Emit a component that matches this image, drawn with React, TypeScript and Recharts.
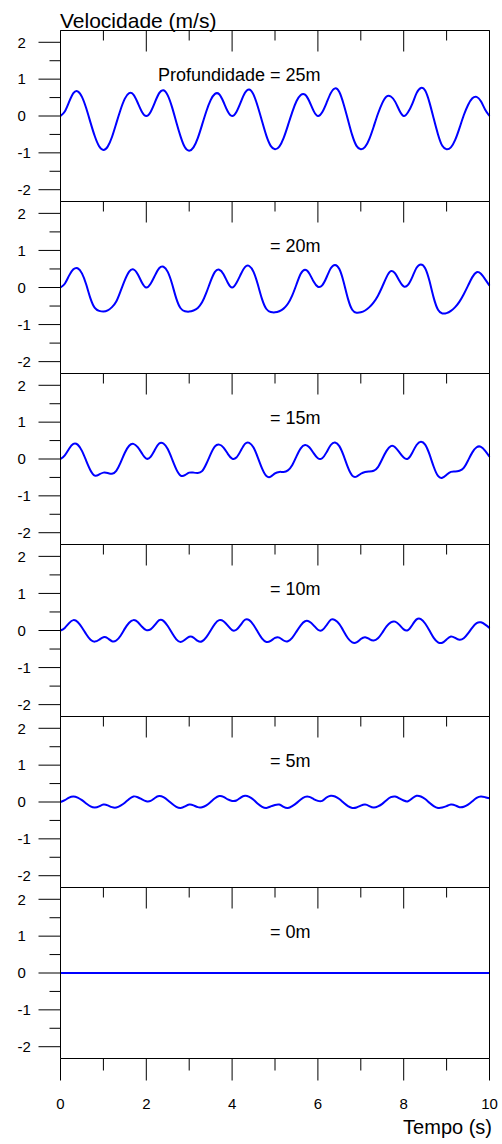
import { Line, LineChart, XAxis, YAxis } from "recharts";

// tempo (s), amostras a cada 0.1 s
const tempo = [
  0, 0.1, 0.2, 0.3, 0.4, 0.5, 0.6, 0.7, 0.8, 0.9,
  1, 1.1, 1.2, 1.3, 1.4, 1.5, 1.6, 1.7, 1.8, 1.9,
  2, 2.1, 2.2, 2.3, 2.4, 2.5, 2.6, 2.7, 2.8, 2.9,
  3, 3.1, 3.2, 3.3, 3.4, 3.5, 3.6, 3.7, 3.8, 3.9,
  4, 4.1, 4.2, 4.3, 4.4, 4.5, 4.6, 4.7, 4.8, 4.9,
  5, 5.1, 5.2, 5.3, 5.4, 5.5, 5.6, 5.7, 5.8, 5.9,
  6, 6.1, 6.2, 6.3, 6.4, 6.5, 6.6, 6.7, 6.8, 6.9,
  7, 7.1, 7.2, 7.3, 7.4, 7.5, 7.6, 7.7, 7.8, 7.9,
  8, 8.1, 8.2, 8.3, 8.4, 8.5, 8.6, 8.7, 8.8, 8.9,
  9, 9.1, 9.2, 9.3, 9.4, 9.5, 9.6, 9.7, 9.8, 9.9,
  10,
];

// velocidade (m/s) por profundidade
const v25 = [
  0, 0.12, 0.38, 0.62, 0.67, 0.52, 0.21, -0.18, -0.55, -0.82,
  -0.92, -0.83, -0.57, -0.2, 0.17, 0.47, 0.62, 0.58, 0.36, 0.11,
  0, 0.11, 0.37, 0.62, 0.7, 0.56, 0.24, -0.17, -0.56, -0.85,
  -0.94, -0.85, -0.6, -0.24, 0.13, 0.43, 0.6, 0.59, 0.38, 0.12,
  0, 0.11, 0.37, 0.63, 0.72, 0.58, 0.25, -0.15, -0.54, -0.81,
  -0.9, -0.83, -0.6, -0.26, 0.1, 0.4, 0.57, 0.58, 0.4, 0.14,
  0, 0.1, 0.35, 0.62, 0.75, 0.65, 0.32, -0.1, -0.52, -0.81,
  -0.9, -0.84, -0.62, -0.29, 0.06, 0.35, 0.53, 0.53, 0.39, 0.15,
  0, 0.1, 0.33, 0.62, 0.76, 0.69, 0.37, -0.07, -0.5, -0.81,
  -0.9, -0.85, -0.65, -0.33, 0.02, 0.3, 0.48, 0.52, 0.4, 0.17,
  0,
];

const v20 = [
  0, 0.1, 0.32, 0.49, 0.52, 0.38, 0.08, -0.3, -0.55, -0.63,
  -0.65, -0.62, -0.53, -0.38, -0.1, 0.2, 0.43, 0.49, 0.36, 0.13,
  0, 0.1, 0.32, 0.52, 0.56, 0.42, 0.1, -0.3, -0.56, -0.64,
  -0.65, -0.62, -0.55, -0.4, -0.14, 0.17, 0.42, 0.48, 0.36, 0.13,
  0, 0.12, 0.35, 0.55, 0.58, 0.42, 0.08, -0.32, -0.58, -0.66,
  -0.67, -0.64, -0.57, -0.44, -0.22, 0.08, 0.37, 0.48, 0.38, 0.16,
  0.02, 0.06, 0.27, 0.52, 0.61, 0.5, 0.15, -0.3, -0.6, -0.68,
  -0.67, -0.62, -0.53, -0.4, -0.22, 0.02, 0.28, 0.44, 0.38, 0.18,
  0.03, 0.07, 0.28, 0.53, 0.62, 0.52, 0.18, -0.28, -0.6, -0.7,
  -0.69, -0.63, -0.53, -0.38, -0.18, 0.05, 0.28, 0.41, 0.37, 0.22,
  0.05,
];

const v15 = [
  0, 0.1, 0.28, 0.41, 0.39, 0.22, -0.05, -0.31, -0.45, -0.42,
  -0.37, -0.38, -0.4, -0.32, -0.1, 0.17, 0.36, 0.41, 0.32, 0.15,
  0.01, 0.06, 0.25, 0.42, 0.42, 0.27, 0, -0.28, -0.45, -0.44,
  -0.37, -0.37, -0.38, -0.33, -0.13, 0.13, 0.34, 0.39, 0.31, 0.14,
  0.01, 0.04, 0.22, 0.41, 0.44, 0.31, 0.04, -0.26, -0.46, -0.48,
  -0.39, -0.35, -0.35, -0.31, -0.17, 0.07, 0.29, 0.38, 0.32, 0.16,
  0.02, 0.02, 0.18, 0.38, 0.45, 0.35, 0.09, -0.23, -0.45, -0.48,
  -0.4, -0.35, -0.34, -0.32, -0.22, 0, 0.22, 0.35, 0.32, 0.18,
  0.04, 0.01, 0.17, 0.38, 0.47, 0.39, 0.13, -0.21, -0.46, -0.51,
  -0.43, -0.35, -0.34, -0.32, -0.24, -0.04, 0.18, 0.32, 0.33, 0.22,
  0.06,
];

const v10 = [
  0, 0.07, 0.2, 0.28, 0.23, 0.08, -0.1, -0.25, -0.3, -0.25,
  -0.18, -0.21, -0.29, -0.27, -0.14, 0.05, 0.21, 0.28, 0.23, 0.1,
  0.01, 0.03, 0.15, 0.28, 0.26, 0.12, -0.07, -0.24, -0.31, -0.25,
  -0.17, -0.19, -0.28, -0.29, -0.18, 0, 0.18, 0.28, 0.25, 0.13,
  0.01, 0.02, 0.15, 0.29, 0.28, 0.15, -0.04, -0.22, -0.31, -0.28,
  -0.2, -0.19, -0.27, -0.29, -0.2, -0.03, 0.14, 0.25, 0.24, 0.14,
  0.02, 0.01, 0.14, 0.29, 0.28, 0.17, -0.02, -0.21, -0.32, -0.32,
  -0.23, -0.18, -0.23, -0.27, -0.21, -0.06, 0.11, 0.22, 0.24, 0.15,
  0.03, 0.01, 0.15, 0.3, 0.31, 0.19, 0, -0.2, -0.32, -0.33,
  -0.24, -0.16, -0.2, -0.25, -0.21, -0.08, 0.08, 0.2, 0.22, 0.16,
  0.07,
];

const v5 = [
  0, 0.05, 0.12, 0.15, 0.12, 0.05, -0.04, -0.12, -0.15, -0.12,
  -0.07, -0.09, -0.14, -0.15, -0.1, -0.02, 0.08, 0.15, 0.13, 0.07,
  0.02, 0.03, 0.11, 0.16, 0.13, 0.05, -0.05, -0.13, -0.16, -0.12,
  -0.07, -0.09, -0.14, -0.14, -0.09, 0, 0.1, 0.16, 0.14, 0.07,
  0.03, 0.04, 0.12, 0.17, 0.14, 0.06, -0.05, -0.13, -0.16, -0.12,
  -0.08, -0.07, -0.13, -0.16, -0.11, -0.03, 0.07, 0.14, 0.14, 0.08,
  0.03, 0.03, 0.12, 0.17, 0.15, 0.08, -0.02, -0.11, -0.16, -0.15,
  -0.1, -0.07, -0.11, -0.15, -0.12, -0.05, 0.05, 0.13, 0.15, 0.1,
  0.04, 0.02, 0.1, 0.17, 0.15, 0.08, -0.02, -0.11, -0.16, -0.15,
  -0.11, -0.07, -0.09, -0.14, -0.13, -0.07, 0.02, 0.11, 0.15, 0.13,
  0.1,
];

// superficie: linha reta em zero
const tempo0 = [0, 10];
const v0 = [0, 0];

const rotulos = ["Profundidade = 25m", "= 20m", "= 15m", "= 10m", "= 5m", "= 0m"];
const xTicks = [0, 1, 2, 3, 4, 5, 6, 7, 8, 9, 10];
const yTicksLeft = [-2, -1.5, -1, -0.5, 0, 0.5, 1, 1.5, 2];
const yTicksRight = [-1.5, -0.5, 0.5, 1.5];

const toRows = (ts: number[], vs: number[]) => ts.map((t, i) => ({ t, v: vs[i] }));

const series = [
  toRows(tempo, v25),
  toRows(tempo, v20),
  toRows(tempo, v15),
  toRows(tempo, v10),
  toRows(tempo, v5),
  toRows(tempo0, v0),
];

const tops = [30, 201, 373, 544, 716, 887, 1058];
const FONT = "'Liberation Sans', Arial, sans-serif";
const BLUE = "#0000ff";

const TopTick = (props: any) => {
  const { x, y, payload } = props;
  const len = payload.value % 2 === 0 ? 21 : 10;
  return <line x1={x} x2={x} y1={y} y2={y + len} stroke="#000" />;
};

const BottomTick = (props: any) => {
  const { x, y, payload } = props;
  const major = payload.value % 2 === 0;
  return (
    <g>
      <line x1={x} x2={x} y1={y} y2={y + (major ? 22 : 12)} stroke="#000" />
      {major && (
        <text x={x} y={y + 50} textAnchor="middle" fontSize={15} fontFamily={FONT} fill="#000">
          {payload.value}
        </text>
      )}
    </g>
  );
};

const LeftTick = (props: any) => {
  const { x, y, payload } = props;
  const major = Number.isInteger(payload.value);
  return (
    <g>
      <line x1={x - (major ? 22 : 11)} x2={x} y1={y} y2={y} stroke="#000" />
      {major && (
        <text x={x - 43} y={y} dy="0.35em" textAnchor="start" fontSize={15} fontFamily={FONT} fill="#000">
          {payload.value}
        </text>
      )}
    </g>
  );
};

const RightTick = (props: any) => {
  const { x, y } = props;
  return <line x1={x - 11} x2={x} y1={y} y2={y} stroke="#000" />;
};

const Panel = ({ index }: { index: number }) => {
  const last = index === series.length - 1;
  const h = tops[index + 1] - tops[index];
  const extra = last ? 60 : 0;
  return (
    <div style={{ position: "absolute", left: 0, top: tops[index] - 5 }}>
      <LineChart
        width={502}
        height={5.5 + h + extra}
        data={series[index]}
        margin={{ top: 4.5, right: 11.5, bottom: 0, left: 0.5 }}
      >
        <XAxis
          xAxisId="top"
          orientation="top"
          dataKey="t"
          type="number"
          domain={[0, 10]}
          ticks={xTicks}
          interval={0}
          height={1}
          tickSize={0}
          tickMargin={0}
          tickLine={false}
          axisLine={{ stroke: "#000" }}
          tick={<TopTick />}
        />
        {last && (
          <XAxis
            xAxisId="bottom"
            orientation="bottom"
            dataKey="t"
            type="number"
            domain={[0, 10]}
            ticks={xTicks}
            interval={0}
            height={60}
            tickSize={0}
            tickMargin={0}
            tickLine={false}
            axisLine={{ stroke: "#000" }}
            tick={<BottomTick />}
          />
        )}
        <YAxis
          yAxisId="left"
          type="number"
          domain={[-2.32, 2.32]}
          ticks={yTicksLeft}
          interval={0}
          width={60}
          tickSize={0}
          tickMargin={0}
          tickLine={false}
          axisLine={{ stroke: "#000" }}
          tick={<LeftTick />}
        />
        <YAxis
          yAxisId="right"
          orientation="right"
          type="number"
          domain={[-2.32, 2.32]}
          ticks={yTicksRight}
          interval={0}
          width={1}
          tickSize={0}
          tickMargin={0}
          tickLine={false}
          axisLine={{ stroke: "#000" }}
          tick={<RightTick />}
        />
        <Line
          xAxisId="top"
          yAxisId="left"
          dataKey="v"
          type="natural"
          stroke={BLUE}
          strokeWidth={2}
          dot={false}
          isAnimationActive={false}
        />
      </LineChart>
    </div>
  );
};

export default function App() {
  return (
    <div
      style={{
        position: "absolute",
        left: 0,
        top: 0,
        width: 502,
        height: 1144,
        background: "#fff",
        fontFamily: FONT,
      }}
    >
      {series.map((_, i) => (
        <Panel key={i} index={i} />
      ))}
      <svg
        width={502}
        height={1144}
        style={{ position: "absolute", left: 0, top: 0, pointerEvents: "none" }}
      >
        <text x={60} y={28} fontSize={21} fontFamily={FONT} fill="#000">
          Velocidade (m/s)
        </text>
        {rotulos.map((r, i) => (
          <text
            key={r}
            x={i === 0 ? 158 : 270}
            y={tops[i] + 51}
            fontSize={18}
            fontFamily={FONT}
            fill="#000"
          >
            {r}
          </text>
        ))}
        <text x={492} y={1134} textAnchor="end" fontSize={20} fontFamily={FONT} fill="#000">
          Tempo (s)
        </text>
      </svg>
    </div>
  );
}
